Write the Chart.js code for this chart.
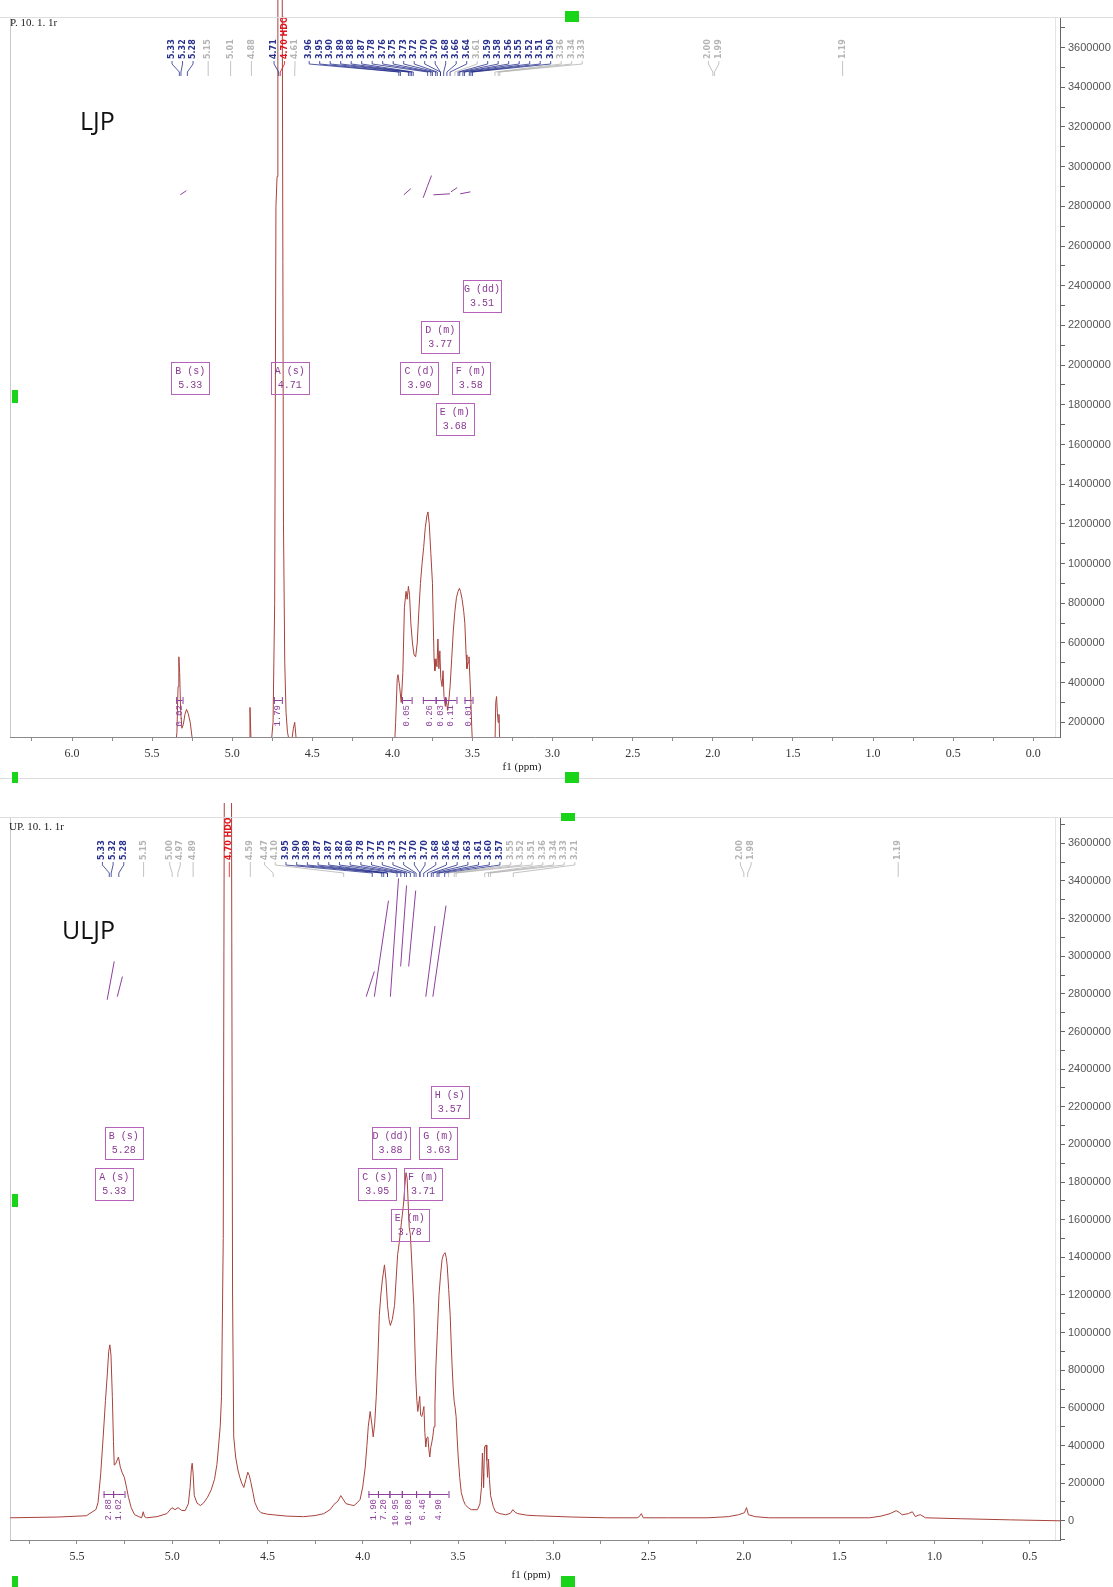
<!DOCTYPE html>
<html lang="zh">
<head>
<meta charset="utf-8">
<title>LJP / ULJP 1H NMR</title>
<script src="https://cdn.jsdelivr.net/npm/chart.js@4.4.1/dist/chart.umd.min.js"></script>
<style>
  html,body{margin:0;padding:0;background:#fff;}
  body{position:relative;width:1113px;height:1587px;overflow:hidden;}
  canvas{position:absolute;left:0;}
  #c1{top:0;}
  #c2{top:790px;}
  .rule{position:absolute;background:#dedede;}
  .handle{position:absolute;background:#19d419;}
  .sample{position:absolute;font-family:"Open Sans",sans-serif;font-size:25px;line-height:25px;color:#111;}
  .fname{position:absolute;font-family:"Liberation Serif",serif;font-size:11px;line-height:11px;color:#222;white-space:pre;}
</style>
</head>
<body>
<canvas id="c1" width="1113" height="790"></canvas>
<canvas id="c2" width="1113" height="797"></canvas>

<div class="rule" style="left:0;top:17px;width:1113px;height:1px"></div>
<div class="rule" style="left:0;top:778px;width:1113px;height:1px"></div>
<div class="rule" style="left:0;top:817px;width:1113px;height:1px"></div>

<div class="fname" style="left:10px;top:17px">P. 10. 1. 1r</div>
<div class="fname" style="left:9px;top:821px">UP. 10. 1. 1r</div>
<div class="sample" style="left:80px;top:108px">LJP</div>
<div class="sample" style="left:62px;top:917px">ULJP</div>

<div class="handle" style="left:565px;top:11px;width:14px;height:11px"></div>
<div class="handle" style="left:12px;top:390px;width:6px;height:13px"></div>
<div class="handle" style="left:12px;top:772px;width:6px;height:11px"></div>
<div class="handle" style="left:565px;top:772px;width:14px;height:11px"></div>
<div class="handle" style="left:561px;top:813px;width:14px;height:8px"></div>
<div class="handle" style="left:12px;top:1194px;width:6px;height:13px"></div>
<div class="handle" style="left:12px;top:1576px;width:6px;height:11px"></div>
<div class="handle" style="left:561px;top:1576px;width:14px;height:11px"></div>

<script>
// ---------------- LJP spectrum (chemical shift / intensity) ----------------
const ljpPpm = [
  6.40, 5.40, 5.36, 5.345, 5.338, 5.333, 5.328, 5.322, 5.314, 5.305,
  5.295, 5.285, 5.275, 5.262, 5.25, 5.24, 5.22,
  4.91, 4.895, 4.889, 4.883, 4.87,
  4.80, 4.76, 4.745, 4.735, 4.727, 4.72, 4.715, 4.705, 4.695, 4.688,
  4.68, 4.672, 4.664, 4.655, 4.645, 4.63, 4.618, 4.61, 4.60, 4.585, 4.56,
  4.02, 3.99, 3.98, 3.97, 3.965, 3.955, 3.945, 3.935, 3.925, 3.915,
  3.908, 3.90, 3.893, 3.885, 3.875, 3.865, 3.855, 3.845, 3.835, 3.825,
  3.815, 3.805, 3.795, 3.785, 3.778, 3.77, 3.76, 3.75, 3.745, 3.74,
  3.735, 3.728, 3.722, 3.716, 3.71, 3.704, 3.698, 3.69, 3.684, 3.678,
  3.67, 3.664, 3.656, 3.648, 3.64, 3.63, 3.62, 3.61, 3.60, 3.59,
  3.582, 3.575, 3.565, 3.555, 3.548, 3.54, 3.535, 3.528, 3.522, 3.516,
  3.51, 3.505, 3.50, 3.49, 3.47,
  3.37, 3.36, 3.355, 3.35, 3.345, 3.34, 3.335, 3.33, 3.32, -0.20
];
const ljpIntensity = [
  0, 0, 20000, 150000, 380000, 530000, 450000, 260000, 170000, 190000,
  240000, 265000, 245000, 200000, 120000, 50000, 0,
  0, 120000, 275000, 120000, 0,
  0, 60000, 200000, 800000, 2800000, 2950000, 9000000, 20000000, 12000000, 4000000,
  1200000, 500000, 250000, 150000, 110000, 100000, 170000, 200000, 110000, 40000, 0,
  0, 20000, 200000, 420000, 440000, 380000, 300000, 450000, 780000, 860000,
  820000, 885000, 840000, 700000, 600000, 540000, 530000, 600000, 760000, 900000,
  1000000, 1080000, 1180000, 1240000, 1260000, 1200000, 1050000, 900000, 700000, 520000,
  460000, 520000, 480000, 620000, 470000, 560000, 420000, 380000, 460000, 330000,
  280000, 320000, 260000, 310000, 380000, 520000, 660000, 760000, 830000, 860000,
  875000, 860000, 820000, 760000, 700000, 540000, 470000, 500000, 530000, 420000,
  300000, 180000, 80000, 20000, 0,
  0, 80000, 300000, 330000, 250000, 200000, 240000, 100000, 0, 0
];

// picked peaks: assigned (dark), weak (grey), residual solvent (red)
const ljpPeaks = [5.33, 5.32, 5.28, 4.71, 3.96, 3.95, 3.90, 3.89, 3.88, 3.87, 3.78, 3.76, 3.75,
                  3.73, 3.72, 3.70, 3.70, 3.68, 3.66, 3.64, 3.59, 3.58, 3.56, 3.55, 3.52, 3.51, 3.50];
const ljpWeakPeaks = [5.15, 5.01, 4.88, 4.61, 3.61, 3.36, 3.34, 3.33, 2.00, 1.99, 1.19];
const ljpSolventPeaks = [4.70];

// integral regions
const ljpIntegralFrom = [5.35, 4.74, 3.94, 3.81, 3.73, 3.67, 3.55];
const ljpIntegralTo   = [5.31, 4.69, 3.88, 3.73, 3.67, 3.60, 3.50];
const ljpIntegralValue = ['0.02', '1.79', '0.05', '0.26', '0.03', '0.11', '0.01'];

// integral traces
const ljpTracePpm = [[5.324, 5.286], [3.929, 3.885], [3.808, 3.782, 3.756], [3.744, 3.641], [3.635, 3.596], [3.577, 3.513]];
const ljpTraceInt = [[2858000, 2879000], [2858000, 2889000], [2843000, 2900000, 2955000], [2858000, 2863000], [2873000, 2894000], [2863000, 2873000]];

// multiplet analysis
const ljpMultName  = ['B', 'A', 'C', 'F', 'D', 'G', 'E'];
const ljpMultType  = ['s', 's', 'd', 'm', 'm', 'dd', 'm'];
const ljpMultShift = [5.33, 4.71, 3.90, 3.58, 3.77, 3.51, 3.68];

// ---------------- ULJP spectrum ----------------
const uljpPpm = [
  5.85, 5.60, 5.45, 5.40, 5.389, 5.375, 5.362, 5.350, 5.341, 5.333,
  5.327, 5.321, 5.314, 5.308, 5.304, 5.298, 5.293, 5.282, 5.272, 5.262,
  5.251, 5.24, 5.229, 5.215, 5.197, 5.175, 5.160, 5.152, 5.145, 5.134,
  5.08, 5.028, 5.001, 4.985, 4.969, 4.950, 4.932, 4.915, 4.906, 4.899,
  4.895, 4.890, 4.884, 4.870, 4.852, 4.835, 4.815, 4.795, 4.778, 4.765,
  4.757, 4.748, 4.741, 4.732, 4.725, 4.715, 4.705, 4.695, 4.688, 4.683,
  4.677, 4.667, 4.655, 4.645, 4.635, 4.624, 4.613, 4.603, 4.595, 4.587,
  4.576, 4.566, 4.55, 4.534, 4.50, 4.470, 4.40, 4.311, 4.25, 4.205,
  4.17, 4.152, 4.13, 4.115, 4.10, 4.088, 4.065, 4.046, 4.030, 4.014,
  4.000, 3.987, 3.978, 3.971, 3.961, 3.953, 3.945, 3.937, 3.929, 3.921,
  3.913, 3.905, 3.897, 3.886, 3.878, 3.870, 3.862, 3.855, 3.845, 3.833,
  3.825, 3.817, 3.808, 3.801, 3.793, 3.786, 3.779, 3.773, 3.767, 3.762,
  3.756, 3.750, 3.743, 3.737, 3.732, 3.727, 3.722, 3.716, 3.711, 3.706,
  3.701, 3.696, 3.690, 3.684, 3.679, 3.674, 3.669, 3.664, 3.658, 3.653,
  3.648, 3.643, 3.637, 3.632, 3.626, 3.621, 3.616, 3.608, 3.600, 3.592,
  3.584, 3.576, 3.568, 3.562, 3.557, 3.549, 3.541, 3.536, 3.531, 3.525,
  3.520, 3.515, 3.510, 3.505, 3.499, 3.491, 3.483, 3.472, 3.462, 3.445,
  3.430, 3.398, 3.385, 3.377, 3.372, 3.368, 3.366, 3.361, 3.353, 3.349,
  3.345, 3.340, 3.335, 3.329, 3.315, 3.303, 3.28, 3.249, 3.225, 3.212,
  3.200, 3.186, 3.14, 3.090, 2.90, 2.719, 2.56, 2.549, 2.538, 2.528,
  2.40, 2.188, 2.082, 2.029, 2.005, 1.997, 1.986, 1.976, 1.94, 1.869,
  1.60, 1.339, 1.28, 1.233, 1.201, 1.185, 1.169, 1.137, 1.116, 1.100,
  1.085, 1.073, 1.047, 0.861, 0.60, 0.34
];
const uljpIntensity = [
  16000, 20000, 27000, 60000, 97000, 250000, 446000, 640000, 769000, 900000,
  935000, 880000, 661000, 420000, 296000, 300000, 312000, 339000, 285000, 255000,
  231000, 180000, 124000, 70000, 32000, 22000, 16000, 48000, 22000, 16000,
  22000, 38000, 70000, 59000, 70000, 55000, 54000, 90000, 177000, 280000,
  306000, 250000, 134000, 95000, 81000, 95000, 124000, 165000, 220000, 300000,
  392000, 500000, 661000, 1500000, 4500000, 20000000, 20000000, 10000000, 3500000, 1200000,
  446000, 339000, 270000, 231000, 200000, 177000, 220000, 258000, 240000, 204000,
  150000, 97000, 60000, 43000, 35000, 32000, 25000, 22000, 28000, 38000,
  60000, 86000, 105000, 134000, 110000, 91000, 85000, 81000, 95000, 113000,
  180000, 285000, 400000, 500000, 581000, 520000, 446000, 520000, 661000, 850000,
  1091000, 1200000, 1280000, 1360000, 1280000, 1145000, 1070000, 1038000, 1070000, 1145000,
  1280000, 1414000, 1480000, 1548000, 1620000, 1683000, 1780000, 1850000, 1820000, 1700000,
  1560000, 1520000, 1380000, 1250000, 1145000, 950000, 769000, 640000, 581000, 620000,
  661000, 560000, 554000, 580000, 607000, 470000, 392000, 440000, 446000, 380000,
  339000, 390000, 419000, 450000, 500000, 620000, 823000, 1010000, 1199000, 1300000,
  1387000, 1415000, 1425000, 1400000, 1360000, 1230000, 1091000, 950000, 823000, 700000,
  634000, 600000, 554000, 450000, 339000, 230000, 151000, 110000, 86000, 68000,
  59000, 59000, 90000, 177000, 360000, 250000, 177000, 392000, 403000, 320000,
  231000, 328000, 220000, 134000, 75000, 48000, 38000, 32000, 40000, 59000,
  45000, 38000, 30000, 27000, 20000, 16000, 16000, 22000, 38000, 16000,
  16000, 16000, 22000, 32000, 40000, 43000, 70000, 32000, 22000, 16000,
  16000, 16000, 25000, 38000, 54000, 45000, 32000, 38000, 48000, 22000,
  30000, 32000, 16000, 11000, 5000, 0
];

const uljpPeaks = [5.33, 5.32, 5.28, 3.95, 3.90, 3.89, 3.87, 3.87, 3.82, 3.80, 3.78, 3.77, 3.75,
                   3.73, 3.72, 3.70, 3.70, 3.68, 3.66, 3.64, 3.63, 3.61, 3.60, 3.57];
const uljpWeakPeaks = [5.15, 5.00, 4.97, 4.89, 4.59, 4.47, 4.10, 3.55, 3.52, 3.51, 3.36, 3.34, 3.33,
                       3.21, 2.00, 1.98, 1.19];
const uljpSolventPeaks = [4.70];

const uljpIntegralFrom = [5.36, 5.31, 3.97, 3.92, 3.86, 3.795, 3.72, 3.65];
const uljpIntegralTo   = [5.31, 5.25, 3.92, 3.86, 3.795, 3.72, 3.65, 3.55];
const uljpIntegralValue = ['2.88', '1.02', '1.90', '7.20', '10.95', '10.80', '6.46', '4.90'];

const uljpTracePpm = [[5.341, 5.304], [5.288, 5.261], [3.982, 3.939], [3.939, 3.865], [3.855, 3.812],
                      [3.801, 3.770], [3.759, 3.722], [3.669, 3.621], [3.632, 3.563]];
const uljpTraceInt = [[2769000, 2973000], [2785000, 2892000], [2785000, 2919000], [2785000, 3295000], [2785000, 3414000],
                      [2946000, 3376000], [2946000, 3349000], [2785000, 3161000], [2785000, 3269000]];

const uljpMultName  = ['A', 'B', 'C', 'D', 'F', 'G', 'H', 'E'];
const uljpMultType  = ['s', 's', 's', 'dd', 'm', 'm', 's', 'm'];
const uljpMultShift = [5.33, 5.28, 3.95, 3.88, 3.71, 3.63, 3.57, 3.78];

// ---------------- drawing helpers ----------------
const SPECTRUM_COLOR = '#a8423c';
const PURPLE = '#8d3f9c';
const BOX_COLOR = '#b563b8';
const PEAK_COLORS = { main: '#27308c', weak: '#b4b4b4', solvent: '#e0141e' };
const Y_TICK_STEP = 100000;
const Y_LABEL_STEP = 200000;
const X_TICK_STEP = 0.25;

// evenly stepped tick values inside [lo, hi]
function stepTicks(lo, hi, step) {
  const out = [];
  for (let k = Math.ceil(lo / step - 1e-9); k * step <= hi + 1e-9; k++) {
    out.push({ value: Math.round(k * step * 1e6) / 1e6 });
  }
  return out;
}

// spread crowded peak labels: overlapping clusters are centred on their peaks
function spreadLabels(xs, gap, lo, hi) {
  const groups = xs.map(x => ({ n: 1, sum: x }));
  const start = g => g.sum / g.n - (g.n - 1) * gap / 2;
  const end = g => g.sum / g.n + (g.n - 1) * gap / 2;
  let merged = true;
  while (merged) {
    merged = false;
    for (let i = 0; i < groups.length - 1; i++) {
      if (start(groups[i + 1]) - end(groups[i]) < gap) {
        groups[i] = { n: groups[i].n + groups[i + 1].n, sum: groups[i].sum + groups[i + 1].sum };
        groups.splice(i + 1, 1);
        merged = true;
        break;
      }
    }
  }
  const out = [];
  groups.forEach(g => {
    const s = Math.max(lo, Math.min(start(g), hi - (g.n - 1) * gap));
    for (let k = 0; k < g.n; k++) out.push(s + k * gap);
  });
  return out;
}

const nmrOverlay = {
  id: 'nmrOverlay',
  beforeDatasetsDraw(chart) {
    const { ctx, chartArea: a } = chart;
    ctx.save();
    ctx.lineWidth = 1;
    ctx.strokeStyle = '#c9c9c9';
    ctx.beginPath();
    ctx.moveTo(a.left + 0.5, a.bottom);
    ctx.lineTo(a.left + 0.5, a.top + 0.5);
    ctx.stroke();
    ctx.strokeStyle = '#e4e4e4';
    ctx.beginPath();
    ctx.moveTo(a.right - 4.5, a.top);
    ctx.lineTo(a.right - 4.5, a.bottom);
    ctx.stroke();
    ctx.restore();
  },
  afterDraw(chart, args, o) {
    const { ctx, chartArea: a } = chart;
    const xs = chart.scales.x;
    const ys = chart.scales.y;
    ctx.save();

    // intensity tick labels on the right-hand axis
    ctx.font = '11px "Liberation Sans"';
    ctx.fillStyle = '#555';
    ctx.textAlign = 'left';
    ctx.textBaseline = 'middle';
    stepTicks(ys.min, ys.max, Y_LABEL_STEP).forEach(t => {
      ctx.fillText(String(Math.round(t.value)), a.right + 8, ys.getPixelForValue(t.value));
    });

    // peak picking labels with leader lines
    const items = [];
    o.peaks.forEach(p => items.push({ ppm: p, kind: 'main' }));
    o.weak.forEach(p => items.push({ ppm: p, kind: 'weak' }));
    o.solvent.forEach(p => items.push({ ppm: p, kind: 'solvent' }));
    items.forEach(it => { it.px = xs.getPixelForValue(it.ppm); });
    items.sort((p, q) => p.px - q.px || q.ppm - p.ppm);
    const lx = spreadLabels(items.map(it => it.px), o.labelGap, a.left + 6, a.right - 6);
    const base = a.top + o.labelBase;
    ctx.font = 'bold 8px "DejaVu Sans"';
    items.forEach((it, i) => {
      const col = PEAK_COLORS[it.kind];
      ctx.strokeStyle = col;
      ctx.lineWidth = 0.8;
      ctx.beginPath();
      ctx.moveTo(lx[i], base + 2);
      ctx.lineTo(lx[i], base + 5);
      ctx.lineTo(it.px, base + 13);
      ctx.lineTo(it.px, base + 17);
      ctx.stroke();
      ctx.save();
      ctx.translate(lx[i], base);
      ctx.rotate(-Math.PI / 2);
      ctx.fillStyle = col;
      ctx.textAlign = 'left';
      ctx.textBaseline = 'middle';
      ctx.fillText(it.ppm.toFixed(2) + (it.kind === 'solvent' ? ' HDO' : ''), 0, 0);
      ctx.restore();
    });

    // integral brackets and values
    const iy = a.bottom - o.integralRise;
    ctx.strokeStyle = PURPLE;
    ctx.fillStyle = PURPLE;
    ctx.lineWidth = 1;
    ctx.font = '9px "Liberation Mono"';
    o.intFrom.forEach((f, i) => {
      const x1 = xs.getPixelForValue(f), x2 = xs.getPixelForValue(o.intTo[i]);
      ctx.beginPath();
      ctx.moveTo(x1, iy + 0.5); ctx.lineTo(x2, iy + 0.5);
      ctx.moveTo(x1 + 0.5, iy - 3); ctx.lineTo(x1 + 0.5, iy + 4);
      ctx.moveTo(x2 + 0.5, iy - 3); ctx.lineTo(x2 + 0.5, iy + 4);
      ctx.stroke();
      ctx.save();
      ctx.translate((x1 + x2) / 2, iy + 5);
      ctx.rotate(-Math.PI / 2);
      ctx.textAlign = 'right';
      ctx.textBaseline = 'middle';
      ctx.fillText(o.intValue[i], 0, 0);
      ctx.restore();
    });

    // multiplet boxes, stacked in tiers when they collide
    const W = 38, H = 32, placed = [];
    ctx.font = '10px "Liberation Mono"';
    ctx.textAlign = 'center';
    ctx.textBaseline = 'middle';
    o.multName.forEach((name, i) => {
      const cx = xs.getPixelForValue(o.multShift[i]) + o.boxShift;
      let tier = 0;
      for (const t of [0, 1, 2, -1, -2, 3]) {
        if (!placed.some(p => p.t === t && Math.abs(p.cx - cx) < W + 5)) { tier = t; break; }
      }
      placed.push({ t: tier, cx });
      const cy = o.boxBase - tier * o.boxStep;
      ctx.strokeStyle = BOX_COLOR;
      ctx.lineWidth = 1;
      ctx.strokeRect(Math.round(cx - W / 2) + 0.5, Math.round(cy - H / 2) + 0.5, W, H);
      ctx.fillStyle = '#8a3a93';
      ctx.fillText(name + ' (' + o.multType[i] + ')', cx, cy - 7);
      ctx.fillText(o.multShift[i].toFixed(2), cx, cy + 7);
    });

    // axis title
    ctx.fillStyle = '#222';
    ctx.font = '11px "Liberation Serif"';
    ctx.textAlign = 'center';
    ctx.textBaseline = 'middle';
    ctx.fillText('f1 (ppm)', o.titleX, o.titleY);
    ctx.restore();
  }
};

function isHalfStep(v) { return Math.abs(v * 2 - Math.round(v * 2)) < 1e-6; }

function drawSpectrum(id, s) {
  const datasets = [{
    data: s.ppm.map((p, i) => ({ x: p, y: s.intensity[i] })),
    showLine: true, borderColor: SPECTRUM_COLOR, borderWidth: 1, pointRadius: 0,
    clip: { left: 0, right: 0, bottom: 0, top: s.clipTop }
  }];
  s.tracePpm.forEach((tp, k) => datasets.push({
    data: tp.map((p, i) => ({ x: p, y: s.traceInt[k][i] })),
    showLine: true, borderColor: PURPLE, borderWidth: 1, pointRadius: 0
  }));
  return new Chart(document.getElementById(id), {
    type: 'scatter',
    data: { datasets },
    options: {
      responsive: false, animation: false, devicePixelRatio: 1,
      layout: { padding: { left: 10, top: s.padTop, right: 0, bottom: 0 } },
      plugins: { legend: { display: false }, tooltip: { enabled: false }, nmrOverlay: s.overlay },
      scales: {
        x: {
          type: 'linear', reverse: true, min: s.xMin, max: s.xMax,
          border: { display: true, color: '#8a8a8a' },
          grid: { drawOnChartArea: false, drawTicks: true, tickLength: 4, color: '#8a8a8a' },
          afterBuildTicks: sc => { sc.ticks = stepTicks(sc.min, sc.max, X_TICK_STEP); },
          ticks: {
            autoSkip: false, maxRotation: 0, minRotation: 0,
            padding: 6, color: '#333', font: { family: 'Liberation Serif', size: 12 },
            callback: v => isHalfStep(v) ? v.toFixed(1) : ''
          },
          afterFit: sc => { sc.height = s.xAxisHeight; }
        },
        y: {
          type: 'linear', position: 'right', min: s.yMin, max: s.yMax,
          border: { display: true, color: '#666' },
          grid: { drawOnChartArea: false, drawTicks: true, tickLength: 5, color: '#666' },
          afterBuildTicks: sc => { sc.ticks = stepTicks(sc.min, sc.max, Y_TICK_STEP); },
          ticks: { autoSkip: false, callback: () => '' },
          afterFit: sc => { sc.width = 53; }
        }
      }
    },
    plugins: [nmrOverlay]
  });
}

drawSpectrum('c1', {
  ppm: ljpPpm, intensity: ljpIntensity, tracePpm: ljpTracePpm, traceInt: ljpTraceInt,
  xMin: -0.167, xMax: 6.387, yMin: 126000, yMax: 3749000,
  padTop: 18, xAxisHeight: 53, clipTop: 18,
  overlay: {
    peaks: ljpPeaks, weak: ljpWeakPeaks, solvent: ljpSolventPeaks,
    labelGap: 10.5, labelBase: 41,
    intFrom: ljpIntegralFrom, intTo: ljpIntegralTo, intValue: ljpIntegralValue, integralRise: 37,
    multName: ljpMultName, multType: ljpMultType, multShift: ljpMultShift,
    boxShift: 11, boxBase: 378, boxStep: 41,
    titleX: 522, titleY: 767
  }
});

drawSpectrum('c2', {
  ppm: uljpPpm, intensity: uljpIntensity, tracePpm: uljpTracePpm, traceInt: uljpTraceInt,
  xMin: 0.341, xMax: 5.851, yMin: -102000, yMax: 3740000,
  padTop: 27, xAxisHeight: 47, clipTop: 14,
  overlay: {
    peaks: uljpPeaks, weak: uljpWeakPeaks, solvent: uljpSolventPeaks,
    labelGap: 10.7, labelBase: 43,
    intFrom: uljpIntegralFrom, intTo: uljpIntegralTo, intValue: uljpIntegralValue, integralRise: 46,
    multName: uljpMultName, multType: uljpMultType, multShift: uljpMultShift,
    boxShift: 5, boxBase: 394, boxStep: 41,
    titleX: 531, titleY: 785
  }
});
</script>
</body>
</html>
